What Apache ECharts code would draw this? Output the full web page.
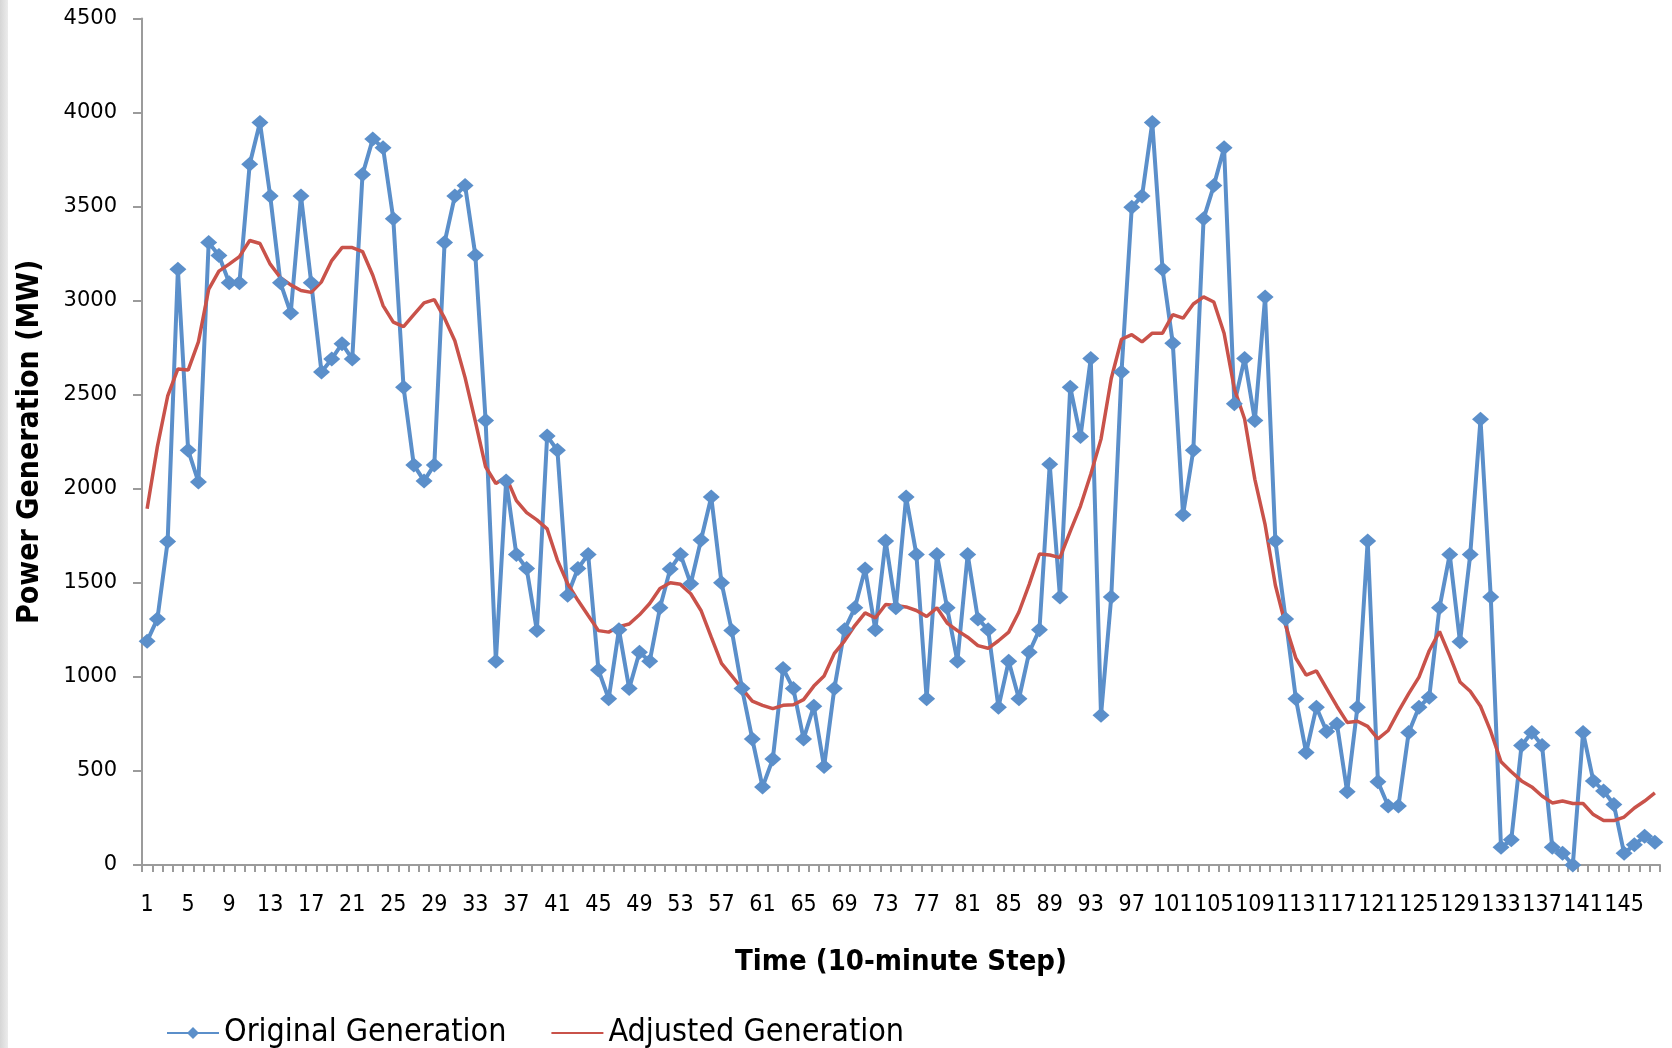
<!DOCTYPE html>
<html>
<head>
<meta charset="utf-8">
<title>Power Generation</title>
<script src="https://cdn.jsdelivr.net/npm/echarts@6/dist/echarts.min.js"></script>
<style>
  html, body { margin: 0; padding: 0; background: #ffffff; }
  #chart { width: 1672px; height: 1048px; }
</style>
</head>
<body>
<div id="chart"></div>
<script>
// Time steps (10-minute intervals), 1..148
const steps = Array.from({ length: 148 }, (_, i) => String(i + 1));

// Y axis ticks (MW)
const yTicks = [0, 500, 1000, 1500, 2000, 2500, 3000, 3500, 4000, 4500];

// Original generation (MW)
const originalGeneration = [
  1190, 1308, 1720, 3167, 2205, 2036, 3309, 3240, 3095, 3095,
  3725, 3947, 3556, 3095, 2934, 3556, 3095, 2621, 2690, 2771,
  2690, 3671, 3859, 3813, 3435, 2540, 2127, 2042, 2127, 3309,
  3556, 3612, 3242, 2363, 1083, 2042, 1651, 1576, 1246, 2280,
  2205, 1434, 1576, 1651, 1037, 884, 1251, 938, 1131, 1083,
  1367, 1573, 1651, 1495, 1728, 1956, 1501, 1246, 938, 670,
  415, 563, 1045, 938, 670, 844, 523, 938, 1251, 1367,
  1573, 1251, 1723, 1367, 1956, 1651, 884, 1651, 1367, 1083,
  1651, 1308, 1251, 839, 1083, 884, 1131, 1251, 2130, 1425,
  2540, 2278, 2693, 796, 1425, 2621, 3497, 3556, 3947, 3167,
  2773, 1862, 2205, 3435, 3612, 3813, 2452, 2693, 2363, 3020,
  1723, 1308, 884, 598, 839, 710, 750, 389, 839, 1723,
  442, 314, 314, 705, 839, 892, 1367, 1651, 1187, 1651,
  2369, 1425, 94, 134, 635, 705, 635, 94, 62, 0,
  705, 447, 394, 322, 62, 107, 153, 121
];

// Adjusted generation (MW)
const adjustedGeneration = [
  1894, 2224, 2492, 2637, 2631, 2781, 3060, 3157, 3194, 3234,
  3320, 3304, 3194, 3122, 3084, 3054, 3044, 3100, 3213, 3282,
  3282, 3261, 3135, 2974, 2886, 2862, 2926, 2988, 3006, 2907,
  2787, 2591, 2358, 2117, 2028, 2063, 1937, 1873, 1835, 1787,
  1621, 1495, 1407, 1326, 1246, 1238, 1267, 1281, 1330, 1390,
  1470, 1500, 1492, 1442, 1353, 1211, 1072, 1005, 938, 871,
  849, 831, 849, 852, 879, 951, 1005, 1125, 1192, 1273,
  1340, 1313, 1385, 1380, 1372, 1353, 1321, 1367, 1286, 1246,
  1211, 1166, 1152, 1192, 1238, 1345, 1492, 1653, 1648, 1634,
  1774, 1908, 2077, 2264, 2586, 2795, 2819, 2781, 2827, 2827,
  2926, 2907, 2982, 3020, 2993, 2827, 2532, 2371, 2050, 1809,
  1487, 1273, 1099, 1010, 1032, 938, 844, 758, 764, 737,
  670, 715, 817, 911, 999, 1139, 1241, 1112, 973, 924,
  844, 710, 549, 496, 447, 415, 367, 330, 340, 327,
  327, 268, 236, 236, 255, 303, 340, 383
];

const NARROW = "'Liberation Sans Narrow', 'DejaVu Sans Condensed', 'Open Sans', sans-serif";
const AXIS_GREY = '#9b9b9b';
const BLUE = '#5b8fca';
const RED = '#c9524a';

const chart = echarts.init(document.getElementById('chart'), null, { renderer: 'canvas' });

chart.setOption({
  animation: false,
  backgroundColor: '#ffffff',
  graphic: [{
    type: 'rect',
    left: 0, top: 0,
    shape: { width: 8, height: 1048 },
    style: {
      fill: new echarts.graphic.LinearGradient(0, 0, 1, 0, [
        { offset: 0, color: '#d6d6d6' },
        { offset: 1, color: '#ececec' }
      ])
    },
    silent: true
  }],
  grid: { left: 142, right: 12, top: 18.5, bottom: 183, containLabel: false },
  legend: {
    left: 161,
    top: 1012,
    itemWidth: 52,
    itemHeight: 15,
    itemGap: 44,
    textStyle: { fontFamily: NARROW, fontSize: 32, color: '#000000' },
    data: [
      { name: 'Original Generation' },
      { name: 'Adjusted Generation', itemStyle: { opacity: 0 } }
    ]
  },
  xAxis: {
    type: 'category',
    data: steps,
    boundaryGap: true,
    name: 'Time (10-minute Step)',
    nameLocation: 'middle',
    nameGap: 83,
    nameTextStyle: { fontFamily: NARROW, fontSize: 29, fontWeight: 'bold', color: '#000000' },
    axisLine: { lineStyle: { color: AXIS_GREY, width: 2 } },
    axisTick: { show: true, interval: 0, length: 7, lineStyle: { color: AXIS_GREY, width: 2 } },
    axisLabel: { interval: 3, margin: 29, fontFamily: NARROW, fontSize: 23, color: '#000000' },
    splitLine: { show: false }
  },
  yAxis: {
    type: 'value',
    min: yTicks[0],
    max: yTicks[yTicks.length - 1],
    interval: yTicks[1] - yTicks[0],
    name: 'Power Generation (MW)',
    nameLocation: 'middle',
    nameGap: 97,
    nameTextStyle: { fontFamily: NARROW, fontSize: 30, fontWeight: 'bold', color: '#000000' },
    axisLine: { show: true, lineStyle: { color: AXIS_GREY, width: 2 } },
    axisTick: { show: true, length: 9, lineStyle: { color: AXIS_GREY, width: 2 } },
    axisLabel: {
      margin: 25,
      fontFamily: "'DejaVu Sans', sans-serif",
      fontSize: 21,
      color: '#000000',
      formatter: (v) => String(v)
    },
    splitLine: { show: false }
  },
  series: [
    {
      name: 'Original Generation',
      type: 'line',
      data: originalGeneration,
      symbol: 'diamond',
      symbolSize: [17, 15],
      showAllSymbol: true,
      lineStyle: { color: BLUE, width: 4 },
      itemStyle: { color: BLUE }
    },
    {
      name: 'Adjusted Generation',
      type: 'line',
      data: adjustedGeneration,
      symbol: 'none',
      lineStyle: { color: RED, width: 3.5 },
      itemStyle: { color: RED }
    }
  ]
});
</script>
</body>
</html>
